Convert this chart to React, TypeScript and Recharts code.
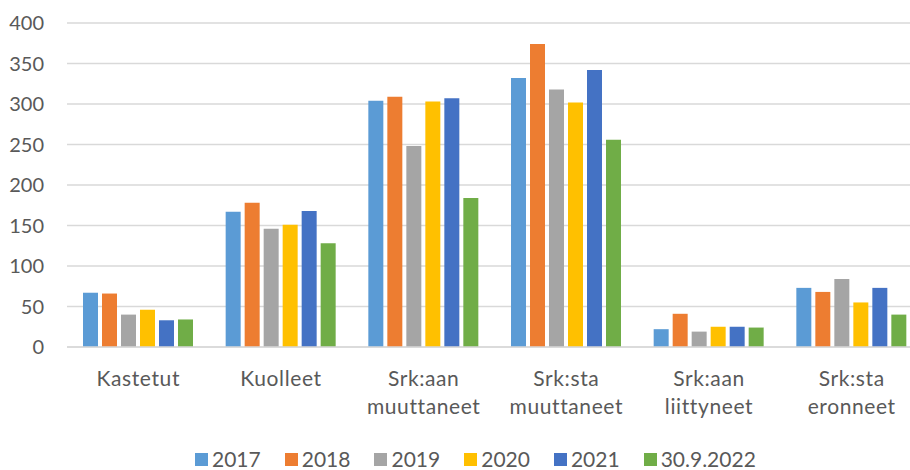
import { BarChart, Bar, XAxis, YAxis, CartesianGrid, Legend } from "recharts";

const categories = [
  "Kastetut",
  "Kuolleet",
  "Srk:aan muuttaneet",
  "Srk:sta muuttaneet",
  "Srk:aan liittyneet",
  "Srk:sta eronneet",
];

const v2017 = [67, 167, 304, 332, 22, 73];
const v2018 = [66, 178, 309, 374, 41, 68];
const v2019 = [40, 146, 248, 318, 19, 84];
const v2020 = [46, 151, 303, 302, 25, 55];
const v2021 = [33, 168, 307, 342, 25, 73];
const v2022 = [34, 128, 184, 256, 24, 40];

const yTicks = [0, 50, 100, 150, 200, 250, 300, 350, 400];

const seriesList = [
  { key: "2017", values: v2017, color: "#5B9BD5" },
  { key: "2018", values: v2018, color: "#ED7D31" },
  { key: "2019", values: v2019, color: "#A5A5A5" },
  { key: "2020", values: v2020, color: "#FFC000" },
  { key: "2021", values: v2021, color: "#4472C4" },
  { key: "30.9.2022", values: v2022, color: "#70AD47" },
];

const data = categories.map((name, i) => {
  const row: Record<string, string | number> = { name };
  seriesList.forEach((s) => {
    row[s.key] = s.values[i];
  });
  return row;
});

const FONT = "Lato, 'Open Sans', sans-serif";
const TEXT = "#595959";

function CategoryTick(props: any) {
  const { x, y, payload } = props;
  const words = String(payload.value).split(" ");
  return (
    <g transform={`translate(${x},${y})`}>
      {words.map((w, i) => (
        <text
          key={i}
          x={0}
          y={39 + i * 28}
          textAnchor="middle"
          fill={TEXT}
          fontSize={21}
          letterSpacing={0.6}
          fontFamily={FONT}
        >
          {w}
        </text>
      ))}
    </g>
  );
}

function LegendContent(props: any) {
  const items = props.payload || [];
  return (
    <div
      style={{
        display: "flex",
        justifyContent: "flex-start",
        height: 22,
        lineHeight: "22px",
        fontFamily: FONT,
        fontSize: 21,
        color: TEXT,
        paddingLeft: 195,
      }}
    >
      {items.map((it: any) => (
        <div key={it.value} style={{ display: "flex", alignItems: "center", marginRight: 24 }}>
          <span
            style={{ display: "inline-block", width: 13, height: 13, background: it.color, marginRight: 4 }}
          />
          <span>{it.value}</span>
        </div>
      ))}
    </div>
  );
}

export default function App() {
  return (
    <div
      style={{
        position: "fixed",
        left: 0,
        top: 0,
        width: 910,
        height: 470,
        overflow: "hidden",
        background: "#fff",
      }}
    >
      <BarChart
        width={940}
        height={470}
        data={data}
        margin={{ top: 23, right: 17, bottom: 0, left: 0 }}
        barGap={4}
        barCategoryGap={16}
      >
        <CartesianGrid vertical={false} stroke="#D9D9D9" strokeWidth={1.3} />
        <XAxis
          dataKey="name"
          height={101}
          tickLine={false}
          tickSize={0}
          tickMargin={0}
          axisLine={{ stroke: "#D9D9D9", strokeWidth: 1.3 }}
          tick={<CategoryTick />}
          interval={0}
        />
        <YAxis
          width={67}
          domain={[0, 400]}
          ticks={yTicks}
          axisLine={false}
          tickLine={false}
          tickSize={0}
          tickMargin={23}
          tick={{ fill: TEXT, fontSize: 20, fontFamily: FONT }}
        />
        <Legend
          verticalAlign="bottom"
          content={<LegendContent />}
          wrapperStyle={{ bottom: 0, left: 0, width: 910 }}
        />
        {seriesList.map((s) => (
          <Bar key={s.key} dataKey={s.key} name={s.key} fill={s.color} isAnimationActive={false} />
        ))}
      </BarChart>
    </div>
  );
}
